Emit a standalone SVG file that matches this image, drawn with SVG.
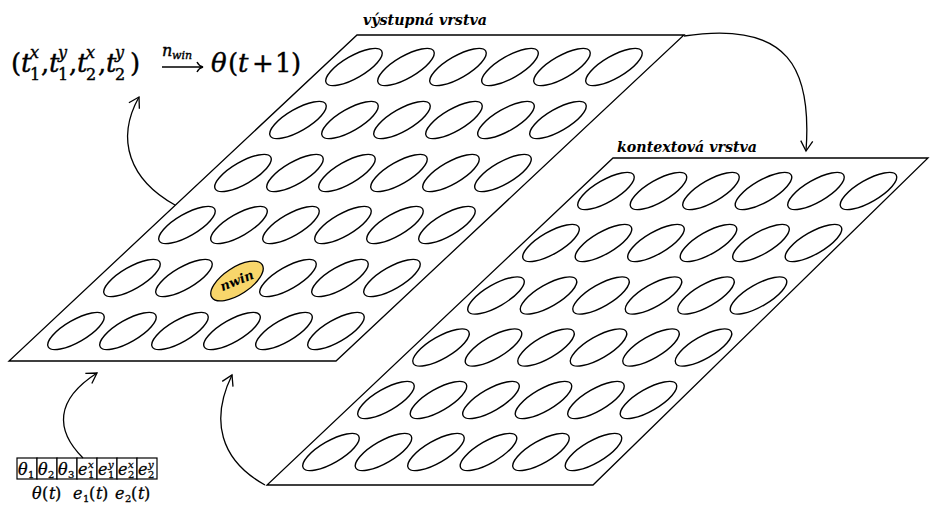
<svg xmlns="http://www.w3.org/2000/svg" xmlns:xlink="http://www.w3.org/1999/xlink" width="930" height="506" viewBox="0 0 930 506">
<style>
.layer{fill:#fff;stroke:#000;stroke-width:1.3;stroke-linejoin:miter}
.unit{fill:none;stroke:#000;stroke-width:1.4}
.conn{fill:none;stroke:#000;stroke-width:1.3}
.lbl{font-family:"DejaVu Serif",serif;font-style:italic;font-weight:bold;font-size:15px;fill:#000}
.m{font-family:"DejaVu Serif",serif;fill:#000;stroke:#000;stroke-width:0.4}
.i{font-style:italic}
.cell{fill:#fff;stroke:#000;stroke-width:1.2}
</style>
<defs>
<ellipse id="u" cx="0" cy="0" rx="32" ry="11" transform="rotate(-30)" class="unit"/>
<marker id="ah" markerWidth="14" markerHeight="14" refX="0" refY="0" viewBox="-12 -7 14 14" orient="auto" markerUnits="userSpaceOnUse">
<path d="M-10,-6 L0,0 L-10,6" fill="none" stroke="#000" stroke-width="1.3"/>
</marker>
</defs>

<g id="output-layer">
<polygon class="layer" points="357,35 684,35 336,361 9,361"/>
<use xlink:href="#u" x="354" y="67"/><use xlink:href="#u" x="406" y="67"/><use xlink:href="#u" x="458" y="67"/><use xlink:href="#u" x="510" y="67"/><use xlink:href="#u" x="562" y="67"/><use xlink:href="#u" x="614" y="67"/>
<use xlink:href="#u" x="298" y="120"/><use xlink:href="#u" x="350" y="120"/><use xlink:href="#u" x="402" y="120"/><use xlink:href="#u" x="454" y="120"/><use xlink:href="#u" x="506" y="120"/><use xlink:href="#u" x="558" y="120"/>
<use xlink:href="#u" x="243" y="173"/><use xlink:href="#u" x="295" y="173"/><use xlink:href="#u" x="347" y="173"/><use xlink:href="#u" x="399" y="173"/><use xlink:href="#u" x="451" y="173"/><use xlink:href="#u" x="503" y="173"/>
<use xlink:href="#u" x="187" y="225"/><use xlink:href="#u" x="239" y="225"/><use xlink:href="#u" x="291" y="225"/><use xlink:href="#u" x="343" y="225"/><use xlink:href="#u" x="395" y="225"/><use xlink:href="#u" x="447" y="225"/>
<use xlink:href="#u" x="132" y="278"/><use xlink:href="#u" x="184" y="278"/><use xlink:href="#u" x="288" y="278"/><use xlink:href="#u" x="340" y="278"/><use xlink:href="#u" x="392" y="278"/>
<use xlink:href="#u" x="76" y="331"/><use xlink:href="#u" x="128" y="331"/><use xlink:href="#u" x="180" y="331"/><use xlink:href="#u" x="232" y="331"/><use xlink:href="#u" x="284" y="331"/><use xlink:href="#u" x="336" y="331"/>
<text class="lbl" x="363" y="25" textLength="124" lengthAdjust="spacingAndGlyphs">výstupná vrstva</text>
</g>

<g id="nwin">
<ellipse cx="237" cy="281" rx="30" ry="13.5" transform="rotate(-33 237 281)" fill="#f8d66b" stroke="#000" stroke-width="1.3"/>
<text x="237" y="285" transform="rotate(-22 237 281)" text-anchor="middle" font-family="DejaVu Serif, serif" font-style="italic" font-weight="bold" font-size="13">nwin</text>
</g>

<g id="context-layer">
<polygon class="layer" points="613,158 928,158 593,485 267,485"/>
<use xlink:href="#u" x="606" y="191"/><use xlink:href="#u" x="658.5" y="191"/><use xlink:href="#u" x="711" y="191"/><use xlink:href="#u" x="763.5" y="191"/><use xlink:href="#u" x="816" y="191"/><use xlink:href="#u" x="868.5" y="191"/>
<use xlink:href="#u" x="551" y="243"/><use xlink:href="#u" x="603.5" y="243"/><use xlink:href="#u" x="656" y="243"/><use xlink:href="#u" x="708.5" y="243"/><use xlink:href="#u" x="761" y="243"/><use xlink:href="#u" x="813.5" y="243"/>
<use xlink:href="#u" x="496" y="295.5"/><use xlink:href="#u" x="548.5" y="295.5"/><use xlink:href="#u" x="601" y="295.5"/><use xlink:href="#u" x="653.5" y="295.5"/><use xlink:href="#u" x="706" y="295.5"/><use xlink:href="#u" x="758.5" y="295.5"/>
<use xlink:href="#u" x="441" y="347.5"/><use xlink:href="#u" x="493.5" y="347.5"/><use xlink:href="#u" x="546" y="347.5"/><use xlink:href="#u" x="598.5" y="347.5"/><use xlink:href="#u" x="651" y="347.5"/><use xlink:href="#u" x="703.5" y="347.5"/>
<use xlink:href="#u" x="386" y="400"/><use xlink:href="#u" x="438.5" y="400"/><use xlink:href="#u" x="491" y="400"/><use xlink:href="#u" x="543.5" y="400"/><use xlink:href="#u" x="596" y="400"/><use xlink:href="#u" x="648.5" y="400"/>
<use xlink:href="#u" x="331" y="452"/><use xlink:href="#u" x="383.5" y="452"/><use xlink:href="#u" x="436" y="452"/><use xlink:href="#u" x="488.5" y="452"/><use xlink:href="#u" x="541" y="452"/><use xlink:href="#u" x="593.5" y="452"/>
<text class="lbl" x="617" y="152" textLength="140" lengthAdjust="spacingAndGlyphs">kontextová vrstva</text>
</g>

<g id="formula">
<text class="m" font-size="26"><tspan x="11" y="72">(</tspan><tspan class="i" x="21" y="72">t</tspan><tspan class="i" x="30" y="58" font-size="16">x</tspan><tspan x="30" y="80" font-size="16">1</tspan><tspan x="41" y="72">,</tspan><tspan class="i" x="49" y="72">t</tspan><tspan class="i" x="58" y="58" font-size="16">y</tspan><tspan x="58" y="80" font-size="16">1</tspan><tspan x="69" y="72">,</tspan><tspan class="i" x="77" y="72">t</tspan><tspan class="i" x="86" y="58" font-size="16">x</tspan><tspan x="86" y="80" font-size="16">2</tspan><tspan x="98" y="72">,</tspan><tspan class="i" x="106" y="72">t</tspan><tspan class="i" x="115" y="58" font-size="16">y</tspan><tspan x="115" y="80" font-size="16">2</tspan><tspan x="130" y="72">)</tspan><tspan class="i" x="162" y="56" font-size="16">n</tspan><tspan class="i" x="172" y="59" font-size="11">win</tspan><tspan class="i" x="211" y="72">θ</tspan><tspan x="228" y="72">(</tspan><tspan class="i" x="238" y="72">t</tspan><tspan x="252" y="72">+</tspan><tspan x="275" y="72">1</tspan><tspan x="291" y="72">)</tspan></text>
<path d="M162,67 H203 M197,62 Q199,66 203,67 Q199,68 197,72" fill="none" stroke="#000" stroke-width="1.4"/>
</g>

<g id="input-vector">
<rect class="cell" x="17" y="458" width="20" height="21"/><rect class="cell" x="37" y="458" width="20" height="21"/><rect class="cell" x="57" y="458" width="20" height="21"/><rect class="cell" x="77" y="458" width="20" height="21"/><rect class="cell" x="97" y="458" width="20" height="21"/><rect class="cell" x="117" y="458" width="20" height="21"/><rect class="cell" x="137" y="458" width="20" height="21"/>
<text class="m" font-size="16" style="stroke-width:0.3"><tspan class="i" x="18" y="475">θ</tspan><tspan x="28" y="478" font-size="10">1</tspan><tspan class="i" x="38" y="475">θ</tspan><tspan x="48" y="478" font-size="10">2</tspan><tspan class="i" x="58" y="475">θ</tspan><tspan x="68" y="478" font-size="10">3</tspan><tspan class="i" x="78" y="475">e</tspan><tspan class="i" x="88" y="468" font-size="10">x</tspan><tspan x="88" y="478" font-size="10">1</tspan><tspan class="i" x="98" y="475">e</tspan><tspan class="i" x="108" y="468" font-size="10">y</tspan><tspan x="108" y="478" font-size="10">1</tspan><tspan class="i" x="118" y="475">e</tspan><tspan class="i" x="128" y="468" font-size="10">x</tspan><tspan x="128" y="478" font-size="10">2</tspan><tspan class="i" x="138" y="475">e</tspan><tspan class="i" x="148" y="468" font-size="10">y</tspan><tspan x="148" y="478" font-size="10">2</tspan></text>
<text class="m" font-size="16" style="stroke-width:0.3"><tspan class="i" x="32" y="499">θ</tspan><tspan x="42" y="499">(</tspan><tspan class="i" x="49" y="499">t</tspan><tspan x="55" y="499">)</tspan><tspan class="i" x="73" y="499">e</tspan><tspan x="83" y="502" font-size="10">1</tspan><tspan x="89" y="499">(</tspan><tspan class="i" x="96" y="499">t</tspan><tspan x="102" y="499">)</tspan><tspan class="i" x="115" y="499">e</tspan><tspan x="125" y="502" font-size="10">2</tspan><tspan x="131" y="499">(</tspan><tspan class="i" x="138" y="499">t</tspan><tspan x="144" y="499">)</tspan></text>
</g>

<g id="connectors">
<path class="conn" d="M175,205 C130,180 115,140 139,97" marker-end="url(#ah)"/>
<path class="conn" d="M684,36 C790,20 812,70 806,151" marker-end="url(#ah)"/>
<path class="conn" d="M83,458 C55,430 55,400 97,373" marker-end="url(#ah)"/>
<path class="conn" d="M265,485 C220,460 210,420 232,375" marker-end="url(#ah)"/>
</g>
</svg>
